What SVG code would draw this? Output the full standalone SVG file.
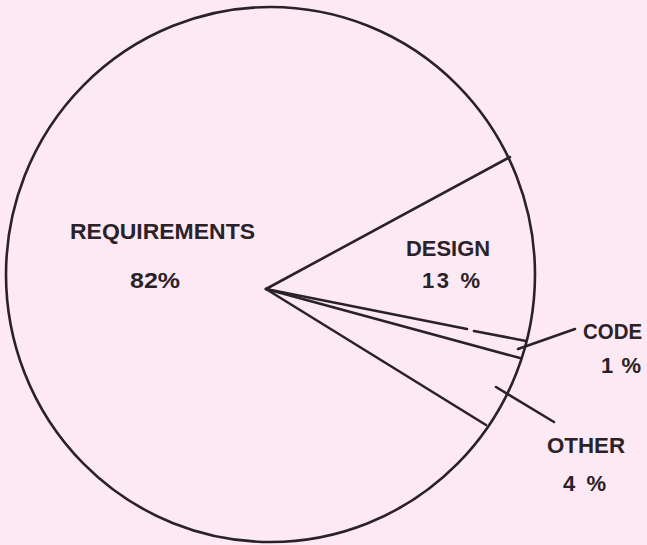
<svg xmlns="http://www.w3.org/2000/svg" width="647" height="545" viewBox="0 0 647 545">
<style>
.ln{stroke:#2a2228;stroke-width:2.6;fill:none;stroke-linecap:round}
.t{font-family:"Liberation Sans",Arial,sans-serif;font-size:22px;font-weight:bold;fill:#2a2228}
</style>
<rect width="647" height="545" fill="#fce9f4"/>
<g id="pie">
<ellipse class="ln" cx="270.5" cy="274.5" rx="264.5" ry="267.5"/>
</g>
<g id="connectors">
<line class="ln" x1="266" y1="289" x2="510" y2="157"/>
<line class="ln" x1="266" y1="289" x2="467" y2="329"/>
<line class="ln" x1="474" y1="331" x2="526" y2="341"/>
<line class="ln" x1="266" y1="289" x2="520" y2="358"/>
<line class="ln" x1="266" y1="289" x2="486" y2="425"/>
<line class="ln" x1="518" y1="349" x2="575" y2="329"/>
<line class="ln" x1="496" y1="387" x2="554" y2="422"/>
</g>
<g id="requirements">
<text class="t" x="70" y="239" textLength="185" lengthAdjust="spacingAndGlyphs">REQUIREMENTS</text>
<text class="t" x="130" y="288" textLength="50" lengthAdjust="spacingAndGlyphs">82%</text>
</g>
<g id="design">
<text class="t" x="406" y="256" textLength="84" lengthAdjust="spacingAndGlyphs">DESIGN</text>
<text class="t" x="422" y="288" textLength="58">13 %</text>
</g>
<g id="code">
<text class="t" x="583" y="339" textLength="59" lengthAdjust="spacingAndGlyphs">CODE</text>
<text class="t" x="601" y="373" textLength="40">1 %</text>
</g>
<g id="other">
<text class="t" x="547" y="453" textLength="78" lengthAdjust="spacingAndGlyphs">OTHER</text>
<text class="t" x="563" y="491" textLength="43">4 %</text>
</g>
</svg>
